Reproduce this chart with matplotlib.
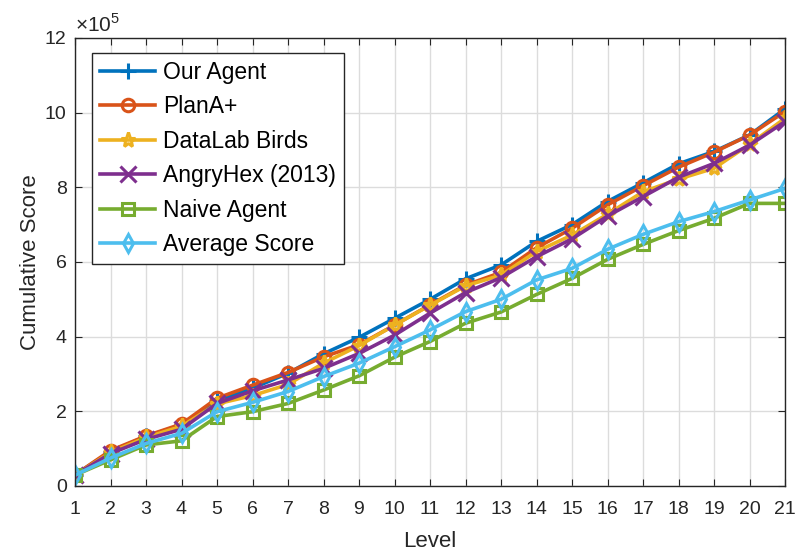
import matplotlib
matplotlib.use("Agg")
import matplotlib.pyplot as plt
import numpy as np
from matplotlib.ticker import FuncFormatter

plt.rcParams['font.family'] = ['Liberation Sans', 'DejaVu Sans']
plt.rcParams['mathtext.fontset'] = 'custom'
plt.rcParams['mathtext.rm'] = 'Liberation Sans'

levels = list(range(1, 22))
# values in units of 1e5
our_agent = [0.30, 0.92, 1.33, 1.63, 2.28, 2.62, 3.02, 3.54, 3.98, 4.49, 5.00, 5.55, 5.92, 6.55, 7.00, 7.62, 8.12, 8.63, 8.96, 9.40, 10.10]
plana = [0.30, 0.95, 1.34, 1.66, 2.35, 2.70, 3.04, 3.46, 3.78, 4.31, 4.85, 5.38, 5.72, 6.38, 6.90, 7.53, 8.04, 8.54, 8.94, 9.40, 10.03]
datalab = [0.29, 0.90, 1.30, 1.60, 2.20, 2.42, 2.72, 3.29, 3.76, 4.31, 4.84, 5.36, 5.65, 6.28, 6.72, 7.28, 7.88, 8.22, 8.51, 9.15, 9.85]
angryhex = [0.29, 0.87, 1.25, 1.52, 2.21, 2.55, 2.84, 3.15, 3.55, 4.04, 4.63, 5.18, 5.58, 6.14, 6.62, 7.23, 7.75, 8.27, 8.64, 9.13, 9.76]
naive = [0.29, 0.70, 1.10, 1.21, 1.86, 1.99, 2.21, 2.57, 2.95, 3.45, 3.87, 4.36, 4.66, 5.13, 5.56, 6.07, 6.47, 6.84, 7.17, 7.57, 7.57]
average = [0.29, 0.75, 1.14, 1.41, 1.99, 2.24, 2.53, 2.93, 3.29, 3.73, 4.18, 4.67, 5.00, 5.52, 5.83, 6.34, 6.74, 7.08, 7.35, 7.66, 7.97]

series = [
    ("Our Agent", our_agent, (0, 0.447, 0.741), '+'),
    ("PlanA+", plana, (0.85, 0.325, 0.098), 'o'),
    ("DataLab Birds", datalab, (0.929, 0.694, 0.125), '*'),
    ("AngryHex (2013)", angryhex, (0.494, 0.184, 0.556), 'x'),
    ("Naive Agent", naive, (0.466, 0.674, 0.188), 's'),
    ("Average Score", average, (0.301, 0.745, 0.933), 'd'),
]

fig = plt.figure(figsize=(7.95, 5.54), dpi=100)
ax = fig.add_axes([75/795, 1-486/554, 710/795, 448/554])

for name, vals, col, mk in series:
    ms = 11 if mk in ('+', 'x', '*') else 9
    ax.plot(levels, np.array(vals) * 1e5, color=col, marker=mk, lw=2.6,
            markersize=ms, markerfacecolor='none', markeredgewidth=2.2, label=name)

ax.set_xlim(1, 21)
ax.set_ylim(0, 12e5)
ax.set_xticks(levels)
ax.set_yticks(np.arange(0, 13e5, 2e5))
ax.yaxis.set_major_formatter(FuncFormatter(lambda v, p: f"{v/1e5:g}"))
ax.text(0.0, 1.005, r'$\times10^{5}$', transform=ax.transAxes, fontsize=15,
        color='#262626', ha='left', va='bottom')
ax.grid(True, color='#dcdcdc', lw=1.0)
ax.set_axisbelow(True)
ax.tick_params(direction='in', top=True, right=True, labelsize=14, length=5,
               color='#262626', labelcolor='#262626')
ax.tick_params(axis='x', pad=11)
ax.tick_params(axis='y', pad=6)
for s in ax.spines.values():
    s.set_color('#262626')
    s.set_linewidth(1.0)
ax.set_xlabel("Level", fontsize=16, color='#262626', labelpad=9)
ax.set_ylabel("Cumulative Score", fontsize=16, color='#262626', labelpad=3)

leg = ax.legend(loc='upper left', bbox_to_anchor=(0.024, 0.967), fontsize=16.5,
                fancybox=False, edgecolor='#262626', framealpha=1,
                handlelength=2.4, handletextpad=0.35, borderpad=0.35, labelspacing=0.5,
                borderaxespad=0)
leg.get_frame().set_linewidth(1.0)

fig.savefig("out.png", dpi=100)
